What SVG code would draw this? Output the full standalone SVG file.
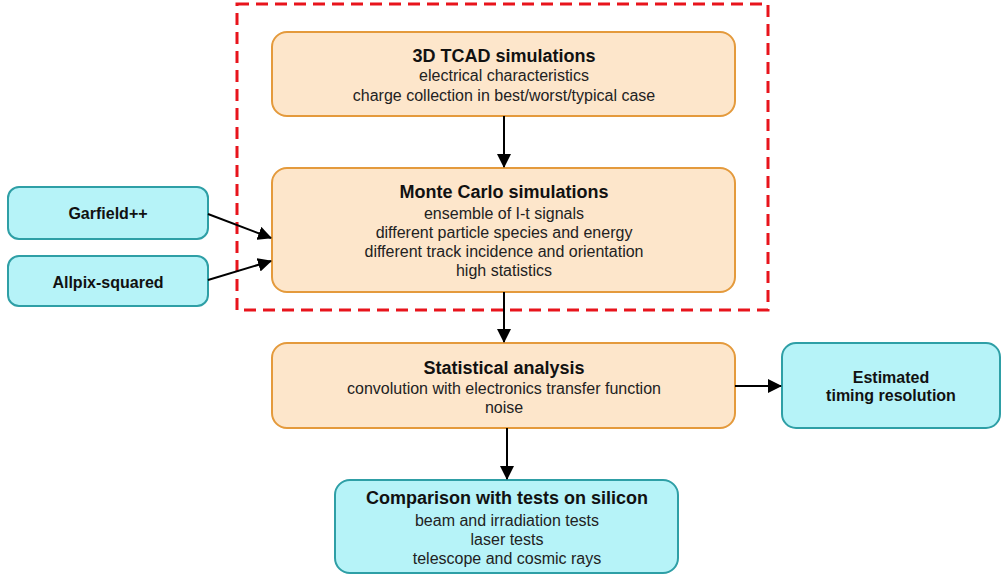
<svg xmlns="http://www.w3.org/2000/svg" width="1002" height="578" viewBox="0 0 1002 578">
  <style>
    .orange { fill: #fde6cb; stroke: #e49a3c; stroke-width: 2; }
    .cyan { fill: #b6f3f8; stroke: #2e9fa6; stroke-width: 2; }
    .title { font-family: "Liberation Sans", Arial, sans-serif; font-weight: bold; font-size: 18px; fill: #111; text-anchor: middle; }
    .label { font-family: "Liberation Sans", Arial, sans-serif; font-weight: bold; font-size: 16px; fill: #111; text-anchor: middle; }
    .body { font-family: "Liberation Sans", Arial, sans-serif; font-size: 16px; fill: #222; text-anchor: middle; }
    .conn { stroke: #000; stroke-width: 2; fill: none; marker-end: url(#arrow); }
  </style>
  <defs>
    <marker id="arrow" markerUnits="userSpaceOnUse" markerWidth="14" markerHeight="14" viewBox="0 0 14 14" refX="13" refY="7" orient="auto">
      <path d="M0,0 L14,7 L0,14 Z" fill="#000"/>
    </marker>
  </defs>
  <rect width="1002" height="578" fill="#ffffff"/>

  <!-- simulation chain frame -->
  <rect id="sim-frame" x="237" y="4" width="531" height="306" fill="none" stroke="#e8141c" stroke-width="3" stroke-dasharray="12,7"/>

  <g id="tcad">
    <rect class="orange" x="272" y="32" width="463" height="84" rx="15"/>
    <text class="title" x="504" y="62">3D TCAD simulations</text>
    <text class="body" x="504" y="81">electrical characteristics</text>
    <text class="body" x="504" y="101">charge collection in best/worst/typical case</text>
  </g>

  <g id="montecarlo">
    <rect class="orange" x="272" y="168" width="463" height="124" rx="15"/>
    <text class="title" x="504" y="198">Monte Carlo simulations</text>
    <text class="body" x="504" y="219">ensemble of I-t signals</text>
    <text class="body" x="504" y="238">different particle species and energy</text>
    <text class="body" x="504" y="257">different track incidence and orientation</text>
    <text class="body" x="504" y="276">high statistics</text>
  </g>

  <g id="garfield">
    <rect class="cyan" x="8" y="187" width="200" height="52" rx="11"/>
    <text class="label" x="108" y="219">Garfield++</text>
  </g>

  <g id="allpix">
    <rect class="cyan" x="8" y="256" width="200" height="50" rx="11"/>
    <text class="label" x="108" y="288">Allpix-squared</text>
  </g>

  <g id="statistical">
    <rect class="orange" x="272" y="343" width="463" height="85" rx="15"/>
    <text class="title" x="504" y="374">Statistical analysis</text>
    <text class="body" x="504" y="394">convolution with electronics transfer function</text>
    <text class="body" x="504" y="413">noise</text>
  </g>

  <g id="timing">
    <rect class="cyan" x="782" y="343" width="218" height="85" rx="14"/>
    <text class="label" x="891" y="383">Estimated</text>
    <text class="label" x="891" y="401">timing resolution</text>
  </g>

  <g id="comparison">
    <rect class="cyan" x="335" y="480" width="343" height="93" rx="15"/>
    <text class="title" x="507" y="504">Comparison with tests on silicon</text>
    <text class="body" x="507" y="526">beam and irradiation tests</text>
    <text class="body" x="507" y="545">laser tests</text>
    <text class="body" x="507" y="564">telescope and cosmic rays</text>
  </g>

  <g id="connectors">
    <line class="conn" x1="504" y1="116" x2="504" y2="167"/>
    <line class="conn" x1="208" y1="214" x2="271" y2="238"/>
    <line class="conn" x1="208" y1="280" x2="271" y2="261"/>
    <line class="conn" x1="504" y1="292" x2="504" y2="342"/>
    <line class="conn" x1="735" y1="386" x2="781" y2="386"/>
    <line class="conn" x1="507" y1="428" x2="507" y2="479"/>
  </g>
</svg>
